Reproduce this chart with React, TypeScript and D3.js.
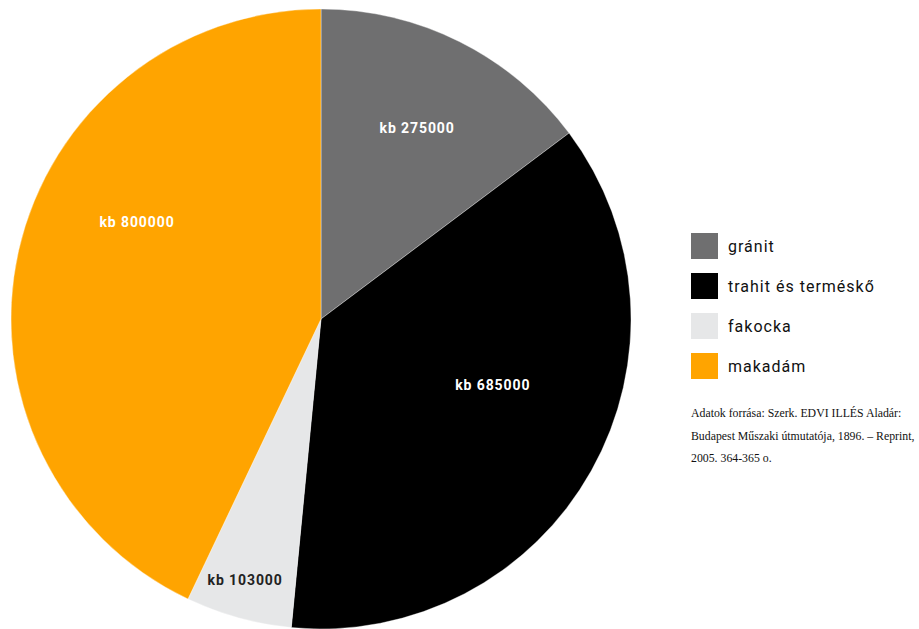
import React from "react";
import * as d3 from "d3";

const categories = ["gránit", "trahit és terméskő", "fakocka", "makadám"];
const values = [275000, 685000, 103000, 800000];
const labels = ["kb 275000", "kb 685000", "kb 103000", "kb 800000"];
const colors = ["#6f6f70", "#000000", "#e6e7e8", "#ffa400"];
const labelColors = ["#ffffff", "#ffffff", "#222222", "#ffffff"];
// label placement: angle (deg, clockwise from top) and radius
const labelAngles = [26.7, 111, 196.2, 297.8];
const labelRadii = [214, 184, 272, 208];
const sourceLines = [
  "Adatok forrása: Szerk. EDVI ILLÉS Aladár:",
  "Budapest Műszaki útmutatója, 1896. – Reprint,",
  "2005. 364-365 o.",
];

export default function App() {
  const W = 919, H = 629;
  const cx = 321, cy = 319, r = 310;
  const pie = d3.pie<number>().sort(null).value((d) => d)(values);
  const arc = d3.arc<d3.PieArcDatum<number>>().innerRadius(0).outerRadius(r);
  const sans = "Roboto, 'DejaVu Sans', sans-serif";
  return (
    <svg width={W} height={H} style={{ position: "absolute", left: 0, top: 0 }}>
      <rect width={W} height={H} fill="#ffffff" />
      <g transform={`translate(${cx},${cy})`}>
        {pie.map((p, i) => (
          <path key={i} d={arc(p) || ""} fill={colors[i]} stroke="#ffffff" strokeWidth={0.6} strokeOpacity={0.6} />
        ))}
        {labels.map((t, i) => {
          const a = (labelAngles[i] * Math.PI) / 180;
          const x = Math.sin(a) * labelRadii[i];
          const y = -Math.cos(a) * labelRadii[i];
          return (
            <text key={i} x={x} y={y} dy="0.35em" textAnchor="middle" fontFamily={sans}
              fontWeight={700} fontSize={14} letterSpacing={0.9} fill={labelColors[i]}>{t}</text>
          );
        })}
      </g>
      <g transform="translate(691,233)">
        {categories.map((c, i) => (
          <g key={i} transform={`translate(0,${i * 40})`}>
            <rect width={27} height={26} fill={colors[i]} />
            <text x={37} y={13} dy="0.35em" fontFamily={sans} fontSize={16} fill="#111111"
              letterSpacing={1.0}>{c}</text>
          </g>
        ))}
      </g>
      <g transform="translate(691,417)">
        {sourceLines.map((l, i) => (
          <text key={i} x={0} y={i * 22.5} fontFamily="'Liberation Serif', serif" fontSize={11.8}
            fill="#111111">{l}</text>
        ))}
      </g>
    </svg>
  );
}
